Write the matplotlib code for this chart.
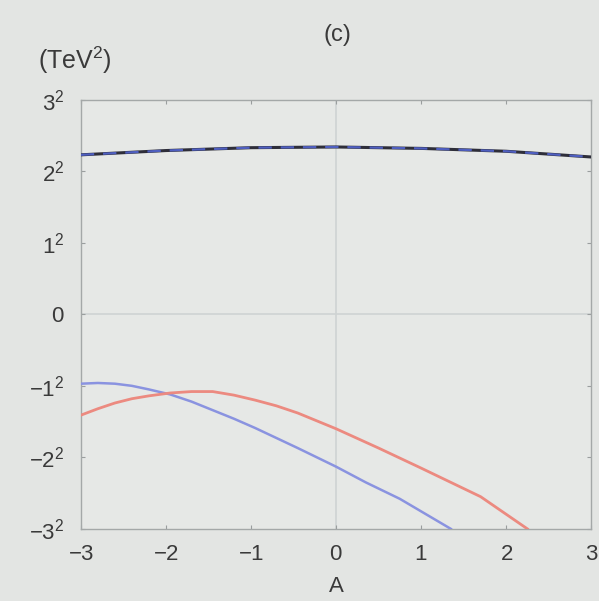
import matplotlib
matplotlib.use("Agg")
import matplotlib.pyplot as plt

# values, y in signed TeV (axis labelled as squares)
a_top = [-3, -2, -1, 0, 1, 2, 3]
m_top = [2.23, 2.29, 2.33, 2.34, 2.32, 2.28, 2.20]

a_blue = [-3, -2.8, -2.6, -2.4, -2.2, -1.95, -1.7, -1.45, -1.2, -0.95, -0.45, 0, 0.35, 0.75, 1.35]
m_blue = [-0.97, -0.96, -0.97, -1.00, -1.05, -1.12, -1.22, -1.34, -1.46, -1.59, -1.87, -2.13, -2.35, -2.58, -3.0]

a_red = [-3, -2.8, -2.6, -2.4, -2.2, -1.95, -1.7, -1.45, -1.2, -0.95, -0.7, -0.45, 0, 0.5, 1, 1.7, 2.25]
m_red = [-1.41, -1.32, -1.24, -1.18, -1.14, -1.10, -1.08, -1.08, -1.13, -1.20, -1.28, -1.38, -1.60, -1.87, -2.15, -2.55, -3.0]

xticks = [-3, -2, -1, 0, 1, 2, 3]
yticks = [-3, -2, -1, 0, 1, 2, 3]
ylabels = [r'$-3^2\;$', r'$-2^2\;$', r'$-1^2\;$', r'$0$', r'$1^2\;$', r'$2^2\;$', r'$3^2\;$']
xlabels = [r'$-3$', r'$-2$', r'$-1$', r'$0$', r'$1$', r'$2$', r'$3$']

plt.rcParams['font.family'] = ['Liberation Sans', 'DejaVu Sans']
plt.rcParams['mathtext.fontset'] = 'custom'
plt.rcParams['mathtext.rm'] = 'Liberation Sans'
plt.rcParams['mathtext.it'] = 'Liberation Sans'
plt.rcParams['mathtext.default'] = 'regular'
bg = '#e3e5e3'
txt = '#3a3a3a'

fig = plt.figure(figsize=(5.99, 6.01), dpi=100, facecolor=bg)
ax = fig.add_axes([0.135, 0.120, 0.852, 0.714], facecolor='#e6e8e6')

# zero lines
ax.axvline(0, color='#cfd3d3', lw=1.2, zorder=1)
ax.axhline(0, color='#cfd3d3', lw=1.2, zorder=1)

ax.plot(a_top, m_top, color='#2e2e3a', lw=2.2, zorder=3)
ax.plot(a_top, m_top, color='#4f5fc0', lw=1.6, ls=(0, (6, 4)), zorder=4)
ax.plot(a_blue, m_blue, color='#8a93e0', lw=1.8, zorder=3)
ax.plot(a_red, m_red, color='#ec8a80', lw=2.0, zorder=3)

ax.set_xlim(-3, 3)
ax.set_ylim(-3, 3)
ax.set_xticks(xticks)
ax.set_xticklabels(xlabels)
ax.set_yticks(yticks)
ax.set_yticklabels(ylabels)
ax.tick_params(direction='in', length=3, width=0.8, colors='#9a9e9e',
               labelcolor=txt, labelsize=16, top=True, right=True)
ax.tick_params(axis='x', pad=11)
ax.tick_params(axis='y', pad=12)
for s in ax.spines.values():
    s.set_color('#a4a8a8')
    s.set_linewidth(1.0)

ax.set_xlabel('A', fontsize=16, color=txt, labelpad=8)
fig.text(0.563, 0.942, '(c)', fontsize=17, color=txt, ha='center', va='center')
fig.text(0.063, 0.900, r'(TeV$^2$)', fontsize=18, color=txt, ha='left', va='center')

fig.savefig('out.png', dpi=100, facecolor=bg)
